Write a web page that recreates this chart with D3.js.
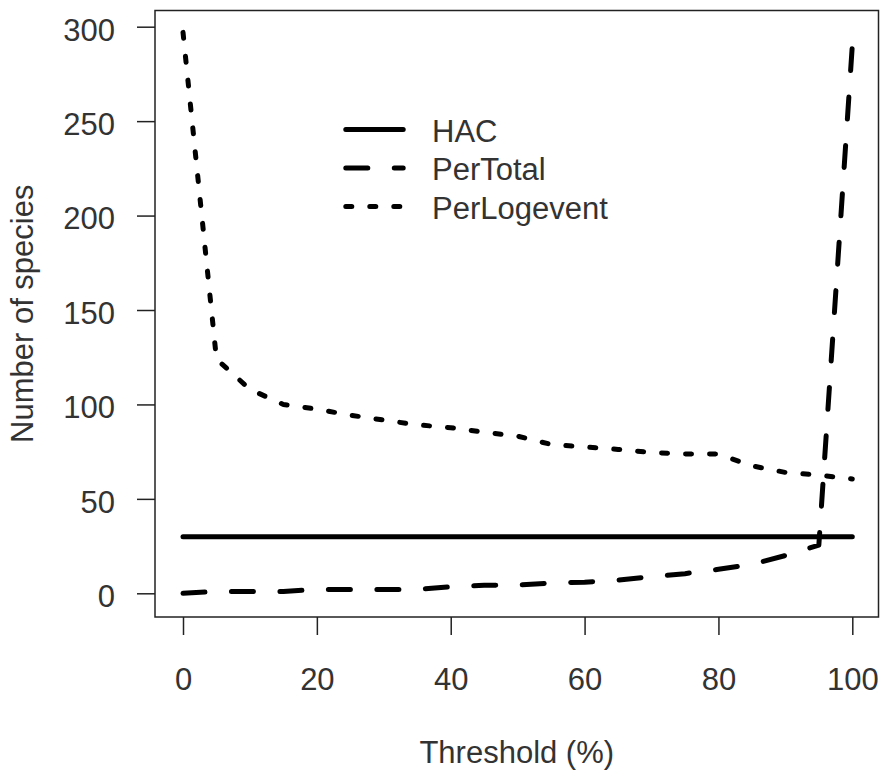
<!DOCTYPE html>
<html>
<head>
<meta charset="utf-8">
<script src="https://cdn.jsdelivr.net/npm/d3@7"></script>
<style>
  body { margin: 0; background: #fff; }
  text { font-family: "Liberation Sans", Arial, sans-serif; fill: #333; }
</style>
</head>
<body>
<svg id="chart" width="880" height="778"></svg>
<script>
// values
var threshold = [0, 5, 10, 15, 20, 25, 30, 35, 40, 45, 50, 55, 60, 65, 70, 75, 80, 85, 90, 95, 100];
var hac = [30, 30, 30, 30, 30, 30, 30, 30, 30, 30, 30, 30, 30, 30, 30, 30, 30, 30, 30, 30, 30];
var perTotal = [0, 1, 1, 1, 2, 2, 2, 2, 3.5, 4.2, 4.3, 5.5, 5.9, 7, 8.8, 10.4, 12.7, 15.3, 20, 25.5, 290];
var perLogevent = [297, 124, 108, 100, 97.5, 94.3, 91.7, 89.2, 87.7, 85.3, 83.2, 78.8, 77.5, 76.2, 74.5, 73.8, 73.7, 67.5, 64, 62.6, 60.5];

var xTicks = [0, 20, 40, 60, 80, 100];
var yTicks = [0, 50, 100, 150, 200, 250, 300];

var seriesNames = ["HAC", "PerTotal", "PerLogevent"];
var seriesValues = [hac, perTotal, perLogevent];
var dashes = [null, "22,26.5", "6,18"];

var box = {left: 155, right: 878.5, top: 10.5, bottom: 617};

var svg = d3.select("#chart");

var x = d3.scaleLinear().domain([0, 100]).range([183, 852.3]);
var y = d3.scaleLinear().domain([0, 300]).range([593.3, 26.7]);

// the lines
var line = d3.line()
  .x(function(d) { return x(d[0]); })
  .y(function(d) { return y(d[1]); });

seriesValues.forEach(function(vals, i) {
  var pts = threshold.map(function(t, j) { return [t, vals[j]]; });
  svg.append("path")
    .attr("d", line(pts))
    .attr("fill", "none")
    .attr("stroke", "#000")
    .attr("stroke-width", 5)
    .attr("stroke-linecap", "round")
    .attr("stroke-linejoin", "round")
    .attr("stroke-dasharray", dashes[i]);
});

// box
svg.append("rect")
  .attr("x", box.left).attr("y", box.top)
  .attr("width", box.right - box.left)
  .attr("height", box.bottom - box.top)
  .attr("fill", "none")
  .attr("stroke", "#222")
  .attr("stroke-width", 1.5);

// axes
var xAxis = svg.append("g")
  .attr("transform", "translate(0," + box.bottom + ")")
  .call(d3.axisBottom(x).tickValues(xTicks).tickSize(18).tickPadding(33));
var yAxis = svg.append("g")
  .attr("transform", "translate(" + box.left + ",0)")
  .call(d3.axisLeft(y).tickValues(yTicks).tickSize(18).tickPadding(22));

[xAxis, yAxis].forEach(function(g) {
  g.select(".domain").remove();
  g.selectAll(".tick line").attr("stroke", "#222").attr("stroke-width", 1.5);
  g.selectAll(".tick text")
    .attr("fill", "#333")
    .style("font-family", "Liberation Sans, Arial, sans-serif")
    .style("font-size", "31px");
});
yAxis.selectAll(".tick text").attr("dy", "0.43em");

// axis titles
svg.append("text")
  .attr("x", (box.left + box.right) / 2)
  .attr("y", 763)
  .attr("text-anchor", "middle")
  .style("font-size", "31px")
  .text("Threshold (%)");

svg.append("text")
  .attr("transform", "translate(33," + ((box.top + box.bottom) / 2) + ") rotate(-90)")
  .attr("text-anchor", "middle")
  .style("font-size", "31px")
  .text("Number of species");

// legend
var legend = svg.append("g");
seriesNames.forEach(function(name, i) {
  var ly = 129.5 + i * 38.5;
  legend.append("line")
    .attr("x1", 345.8).attr("x2", 403.2)
    .attr("y1", ly).attr("y2", ly)
    .attr("stroke", "#000")
    .attr("stroke-width", 5)
    .attr("stroke-linecap", "round")
    .attr("stroke-dasharray", dashes[i]);
  legend.append("text")
    .attr("x", 432)
    .attr("y", ly + 12)
    .style("font-size", "31px")
    .text(name);
});
</script>
</body>
</html>
